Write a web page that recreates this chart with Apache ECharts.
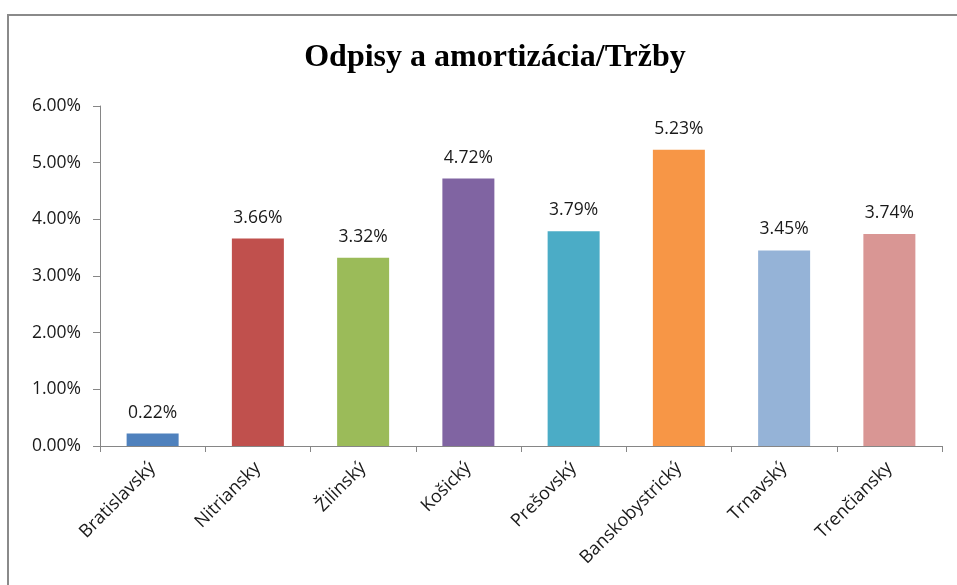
<!DOCTYPE html>
<html>
<head>
<meta charset="utf-8">
<title>Odpisy a amortizácia/Tržby</title>
<script src="https://cdn.jsdelivr.net/npm/echarts@6/dist/echarts.min.js"></script>
<style>
    html, body { margin: 0; padding: 0; background: #fff; overflow: hidden; }
    #frame {
        position: absolute; left: 7px; top: 14px; width: 1000px; height: 700px;
        border: 2px solid #8a8a8a; pointer-events: none;
    }
    #chart { position: absolute; left: 0; top: 0; width: 957px; height: 585px; }
</style>
</head>
<body>
<div id="chart"></div>
<div id="frame"></div>
<script>
    const categories = ['Bratislavský', 'Nitriansky', 'Žilinský', 'Košický', 'Prešovský', 'Banskobystrický', 'Trnavský', 'Trenčiansky'];
    const values = [0.22, 3.66, 3.32, 4.72, 3.79, 5.23, 3.45, 3.74];
    const barColors = ['#4f81bd', '#c0504d', '#9bbb59', '#8064a2', '#4bacc6', '#f79646', '#95b3d7', '#d99694'];
    const yTicks = [0, 1, 2, 3, 4, 5, 6];

    let chartElem = document.getElementById('chart');
    let chart = echarts.init(chartElem);
    chart.setOption({
        animation: false,
        title: {
            text: 'Odpisy a amortizácia/Tržby',
            left: 490,
            textAlign: 'center',
            top: 37,
            textStyle: {
                fontFamily: 'Liberation Serif',
                fontWeight: 'bold',
                fontSize: 32,
                color: '#000'
            }
        },
        grid: {
            left: 100,
            right: 15,
            top: 106,
            bottom: 139
        },
        xAxis: {
            type: 'category',
            data: categories,
            axisLine: { show: true, lineStyle: { color: '#868686', width: 1 } },
            axisTick: { show: true, length: 6, lineStyle: { color: '#868686' } },
            axisLabel: {
                rotate: 45,
                margin: 19,
                fontFamily: 'Open Sans',
                fontSize: 18,
                color: '#1a1a1a'
            }
        },
        yAxis: {
            type: 'value',
            min: yTicks[0],
            max: yTicks[yTicks.length - 1],
            interval: 1,
            axisLine: { show: true, lineStyle: { color: '#868686', width: 1 } },
            axisTick: { show: true, length: 7, lineStyle: { color: '#868686' } },
            splitLine: { show: false },
            axisLabel: {
                margin: 19,
                fontFamily: 'Open Sans',
                fontSize: 17.5,
                color: '#1a1a1a',
                formatter: function(v) { return v.toFixed(2) + '%'; }
            }
        },
        series: [{
            type: 'bar',
            barWidth: 52,
            data: values.map(function(v, i) {
                return { value: v, itemStyle: { color: barColors[i] } };
            }),
            label: {
                show: true,
                position: 'top',
                distance: 12,
                fontFamily: 'Open Sans',
                fontSize: 17.5,
                color: '#1a1a1a',
                formatter: function(p) { return p.value.toFixed(2) + '%'; }
            }
        }]
    });
</script>
</body>
</html>
